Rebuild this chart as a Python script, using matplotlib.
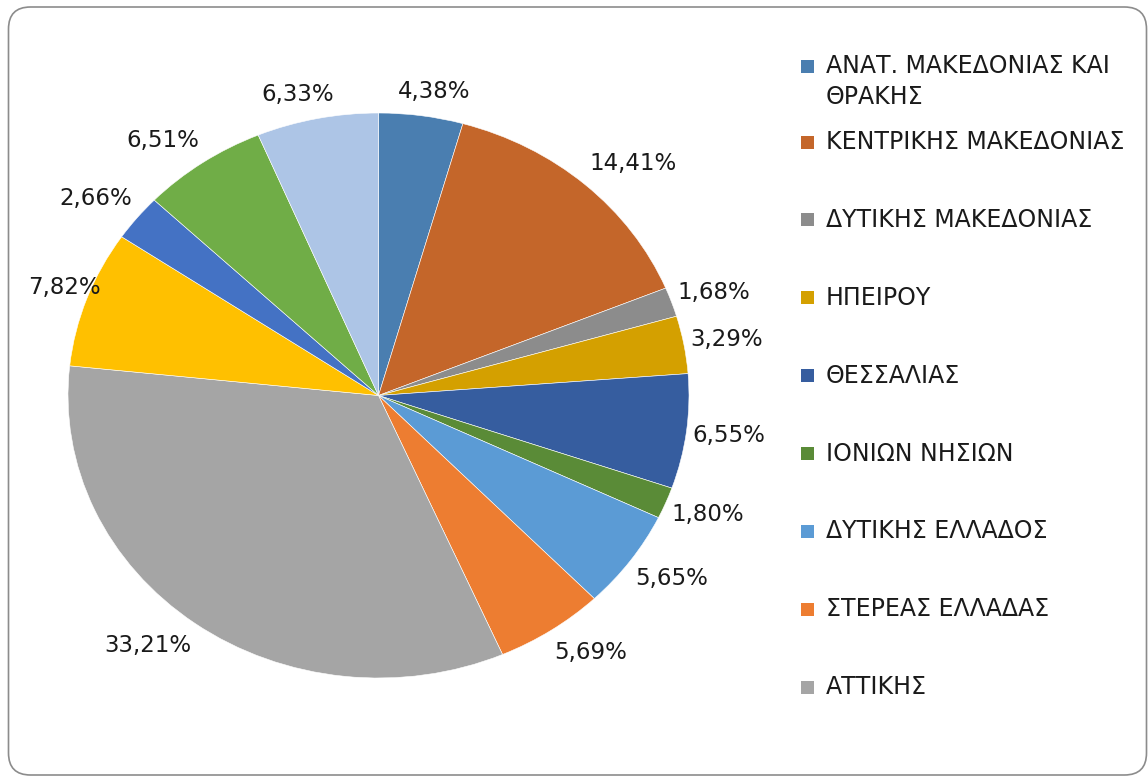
import numpy as np
import matplotlib

matplotlib.use("Agg")
import matplotlib.pyplot as plt
from matplotlib.patches import FancyBboxPatch, Rectangle
from matplotlib.transforms import IdentityTransform

# regions (only the first nine appear in the legend of the original)
regions = [
    "ΑΝΑΤ. ΜΑΚΕΔΟΝΙΑΣ ΚΑΙ\nΘΡΑΚΗΣ",
    "ΚΕΝΤΡΙΚΗΣ ΜΑΚΕΔΟΝΙΑΣ",
    "ΔΥΤΙΚΗΣ ΜΑΚΕΔΟΝΙΑΣ",
    "ΗΠΕΙΡΟΥ",
    "ΘΕΣΣΑΛΙΑΣ",
    "ΙΟΝΙΩΝ ΝΗΣΙΩΝ",
    "ΔΥΤΙΚΗΣ ΕΛΛΑΔΟΣ",
    "ΣΤΕΡΕΑΣ ΕΛΛΑΔΑΣ",
    "ΑΤΤΙΚΗΣ",
    "ΠΕΛΟΠΟΝΝΗΣΟΥ",
    "ΒΟΡΕΙΟΥ ΑΙΓΑΙΟΥ",
    "ΝΟΤΙΟΥ ΑΙΓΑΙΟΥ",
    "ΚΡΗΤΗΣ",
]
shares = [4.38, 14.41, 1.68, 3.29, 6.55, 1.80, 5.65, 5.69, 33.21, 7.82, 2.66, 6.51, 6.33]
colors = [
    "#4a7eb0", "#c4662a", "#8c8c8c", "#d4a000", "#365d9f", "#5a8b37", "#5b9bd5",
    "#ed7d31", "#a5a5a5", "#ffc000", "#4472c4", "#70ad47", "#adc5e6",
]
n_legend = 9

W, H = 1148, 776
fig = plt.figure(figsize=(W / 100, H / 100), dpi=100)

# rounded chart-area frame, kept behind the pie
frame = FancyBboxPatch(
    (8.5, 1.0), 1138.0, H - 8.0,
    boxstyle="round,pad=0,rounding_size=22",
    transform=IdentityTransform(), facecolor="white", edgecolor="#8c8c8c", lw=1.2,
    zorder=-5,
)
fig.patches.append(frame)

# pie is slightly stretched horizontally in the original
cx, cy, rx, ry = 378.5, H - 395.5, 310.5, 282.5
ax = fig.add_axes([(cx - rx) / W, (cy - ry) / H, 2 * rx / W, 2 * ry / H])
ax.set_zorder(2)
wedges, _ = ax.pie(
    shares, colors=colors, startangle=90, counterclock=False,
    wedgeprops=dict(edgecolor="white", linewidth=0.4),
)
ax.set_aspect("auto")
ax.set_xlim(-1, 1)
ax.set_ylim(-1, 1)
ax.axis("off")

# data labels "outside end": box pushed off the rim, kept inside the chart area
renderer = fig.canvas.get_renderer()
gap_x, gap_y, kx, ky, margin = 6.0, 13.0, 2.5, 1.5, 28.0
for w, v in zip(wedges, shares):
    mid = np.deg2rad((w.theta1 + w.theta2) / 2)
    c, s = np.cos(mid), np.sin(mid)
    t = ax.text(c, s, f"{v:.2f}%".replace(".", ","),
                ha="center", va="center", fontsize=16.5, color="#1a1a1a")
    bb = t.get_window_extent(renderer)
    hw, hh = bb.width / 2, bb.height / 2
    px = cx + rx * c + gap_x * c + hw * np.clip(kx * c, -1, 1)
    py = cy + ry * s + gap_y * s + hh * np.clip(ky * s, -1, 1)
    px = max(px, margin + hw)
    t.set_position(((px - cx) / rx, (py - cy) / ry))

# legend
ys = [66] + [142 + 77.9 * (i - 1) for i in range(1, n_legend)]
for name, col, y in zip(regions[:n_legend], colors[:n_legend], ys):
    fig.patches.append(Rectangle((801, H - y - 6.5), 13, 13, transform=IdentityTransform(),
                                 facecolor=col, edgecolor="none", zorder=3))
    lines = name.split("\n")
    for j, line in enumerate(lines):
        fig.text(826 / W, (H - y - 31 * j) / H, line, ha="left", va="center",
                 fontsize=17, color="#1a1a1a")

fig.savefig("out.png", dpi=100)
